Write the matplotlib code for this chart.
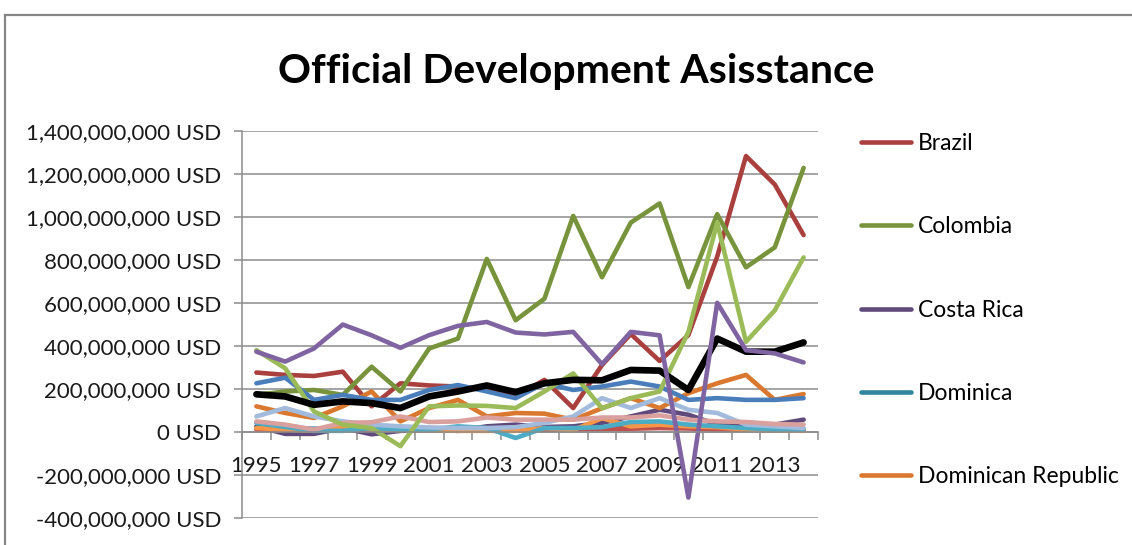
import numpy as np
import matplotlib
matplotlib.use("Agg")
import matplotlib.pyplot as plt
from matplotlib.lines import Line2D
from matplotlib.ticker import FuncFormatter, FixedLocator

plt.rcParams["font.family"] = ["Lato", "DejaVu Sans"]

years = list(range(1995, 2015))

# values in millions of USD
brazil = [276, 265, 260, 280, 119, 226, 216, 211, 195, 165, 242, 111, 311, 455, 330, 450, 815, 1282, 1150, 915]
colombia = [172, 188, 195, 172, 303, 188, 388, 434, 804, 519, 619, 1004, 719, 973, 1062, 673, 1012, 765, 858, 1227]
costa_rica = [26, -9, -9, 18, -11, 5, 11, 5, 26, 34, 23, 26, 42, 72, 103, 80, 34, 26, 34, 57]
dominica = [20, 18, 15, 14, 16, 15, 14, 15, 16, 14, 15, 17, 18, 20, 22, 21, 18, 16, 15, 14]
dominican_rep = [119, 88, 65, 119, 188, 49, 111, 149, 72, 88, 85, 57, 110, 157, 111, 180, 226, 265, 149, 176]

# remaining series (their legend entries are cut off in the original)
purple_high = [373, 327, 388, 499, 449, 391, 450, 493, 511, 462, 453, 465, 315, 465, 449, -305, 600, 380, 365, 323]
green_light = [380, 296, 95, 34, 18, -66, 119, 123, 121, 111, 188, 272, 110, 157, 188, 465, 973, 419, 565, 811]
blue = [226, 252, 149, 172, 149, 149, 195, 218, 188, 157, 226, 195, 211, 234, 211, 149, 157, 149, 149, 157]
blue_light = [72, 111, 72, 49, 34, 26, 21, 18, 18, 22, 42, 72, 157, 111, 157, 103, 88, 34, 26, 18]
pink = [49, 34, 11, 42, 45, 72, 46, 49, 67, 57, 57, 57, 67, 67, 77, 57, 49, 46, 37, 34]
cyan = [42, 23, 5, 5, 18, 11, 11, 26, 18, -28, 18, 18, 22, 46, 49, 34, 26, 18, 11, 11]
orange_bright = [18, 11, 5, 26, 11, 11, 9, 5, 5, 5, 18, 8, 64, 26, 34, 26, 22, 11, 8, 5]
red_low = [11, 10, 9, 12, 10, 9, 8, 9, 10, 9, 10, 12, 14, 15, 18, 16, 12, 10, 9, 8]
black = [175, 165, 126, 142, 134, 111, 165, 188, 216, 185, 226, 242, 240, 288, 285, 195, 434, 373, 373, 416]

x = np.arange(len(years))

fig = plt.figure(figsize=(11.32, 5.45), dpi=100)
ax = fig.add_axes([242 / 1132, 1 - 518 / 545, 576 / 1132, (518 - 130.7) / 545])

lw = 3.3
kw = dict(lw=lw, solid_joinstyle="round", solid_capstyle="round")
legend_lines = []
legend_lines += ax.plot(x, np.array(brazil) * 1e6, color="#A9403D", label="Brazil", **kw)
legend_lines += ax.plot(x, np.array(colombia) * 1e6, color="#77933C", label="Colombia", **kw)
legend_lines += ax.plot(x, np.array(costa_rica) * 1e6, color="#604A7B", label="Costa Rica", **kw)
legend_lines += ax.plot(x, np.array(dominica) * 1e6, color="#31859C", label="Dominica", **kw)
legend_lines += ax.plot(x, np.array(dominican_rep) * 1e6, color="#DA782F", label="Dominican Republic", **kw)

ax.plot(x, np.array(red_low) * 1e6, color="#C0504D", **kw)
ax.plot(x, np.array(orange_bright) * 1e6, color="#F79646", **kw)
ax.plot(x, np.array(cyan) * 1e6, color="#4BACC6", **kw)
ax.plot(x, np.array(blue_light) * 1e6, color="#A2BBDC", **kw)
ax.plot(x, np.array(pink) * 1e6, color="#D9A09E", **kw)
ax.plot(x, np.array(blue) * 1e6, color="#4A7EBB", **kw)
ax.plot(x, np.array(green_light) * 1e6, color="#9BBB59", **kw)
ax.plot(x, np.array(black) * 1e6, color="black", lw=4.8, solid_joinstyle="round", solid_capstyle="round")
ax.plot(x, np.array(purple_high) * 1e6, color="#8064A2", **kw)

ax.set_xlim(-0.5, len(years) - 0.5)
ax.set_ylim(-400e6, 1400e6)
ax.set_yticks(np.arange(-400e6, 1400e6 + 1, 200e6))
ax.yaxis.set_major_formatter(FuncFormatter(lambda v, p: f"{v:,.0f} USD"))
ax.yaxis.grid(True, color="#8C8C8C", lw=1.1)
ax.set_axisbelow(True)

ax.set_xticks(x[::2])
ax.set_xticklabels([str(y) for y in years[::2]])
ax.xaxis.set_minor_locator(FixedLocator(np.arange(-0.5, len(years), 1.0)))

for s in ["top", "right"]:
    ax.spines[s].set_visible(False)
ax.spines["bottom"].set_position(("data", 0))
ax.spines["left"].set_color("#8C8C8C")
ax.spines["bottom"].set_color("#8C8C8C")
ax.spines["left"].set_linewidth(1.1)
ax.spines["bottom"].set_linewidth(1.1)

ax.tick_params(axis="y", length=6, width=1.1, color="#8C8C8C", pad=9, labelsize=16, labelcolor="#1a1a1a")
ax.tick_params(axis="x", which="major", length=0, pad=17, labelsize=16, labelcolor="#1a1a1a")
ax.tick_params(axis="x", which="minor", length=6, width=1.1, color="#8C8C8C")

fig.text(576 / 1132, 1 - 71 / 545, "Official Development Asisstance", ha="center", va="center",
         fontsize=29.5, fontweight="bold", color="black")

ax.legend(handles=legend_lines, loc="upper left", bbox_to_anchor=(861 / 1132, 1 - 133 / 545),
          bbox_transform=fig.transFigure, frameon=False, fontsize=16.5, handlelength=2.2,
          handletextpad=0.3, labelspacing=2.72, borderpad=0, borderaxespad=0)

# outer chart border (only left and top edges are inside the crop)
fig.add_artist(Line2D([5 / 1132, 5 / 1132], [0, 1 - 15 / 545], transform=fig.transFigure,
                      color="#868686", lw=1.6))
fig.add_artist(Line2D([5 / 1132, 1], [1 - 15 / 545, 1 - 15 / 545], transform=fig.transFigure,
                      color="#868686", lw=1.6))

fig.savefig("out.png", dpi=100)
